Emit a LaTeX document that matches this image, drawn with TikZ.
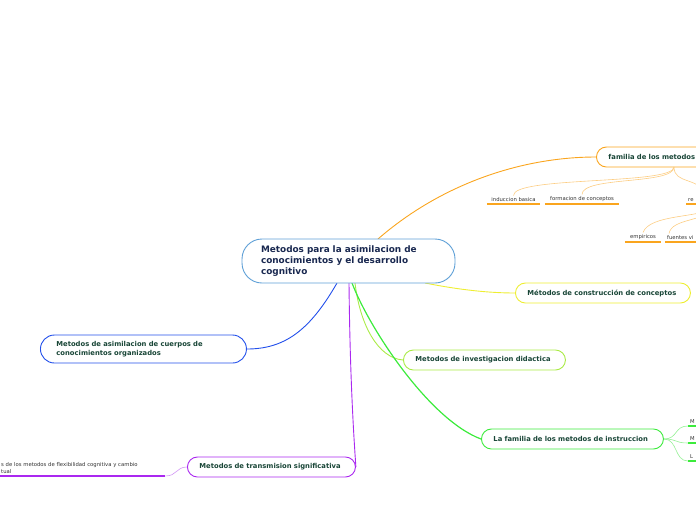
\documentclass[tikz,border=0pt]{standalone}
\usepackage{fontspec}
\setmainfont{DejaVu Sans}
\definecolor{cblue}{RGB}{95,160,215}
\definecolor{corange}{RGB}{250,165,30}
\definecolor{lorange}{RGB}{252,205,130}
\definecolor{cyellow}{RGB}{238,238,50}
\definecolor{clgreen}{RGB}{170,235,70}
\definecolor{cgreen}{RGB}{60,235,60}
\definecolor{lgreen}{RGB}{150,240,150}
\definecolor{cdblue}{RGB}{35,80,235}
\definecolor{cpurple}{RGB}{170,40,240}
\definecolor{lpurple}{RGB}{210,150,245}
\definecolor{ctext}{RGB}{25,40,80}
\definecolor{ntext}{RGB}{25,70,55}
\definecolor{ltext}{RGB}{50,50,50}
\begin{document}
\begin{tikzpicture}[x=1pt,y=-1pt,
  central/.style={draw=cblue, line width=0.9pt, rounded corners=20pt, fill=white,
    minimum width=213pt, minimum height=44pt, text width=175pt, inner xsep=19pt,
    align=left, text=ctext, font=\bfseries\fontsize{8.9}{11}\selectfont},
  branch/.style={line width=0.9pt, rounded corners=10pt, fill=white, anchor=west,
    minimum height=20pt, inner xsep=12pt, inner ysep=0pt, align=left, text=ntext,
    font=\bfseries\fontsize{6.8}{9}\selectfont},
  leaf/.style={inner xsep=0pt, inner ysep=2pt, text=ltext,
    font=\fontsize{5.3}{7}\selectfont},
  conn/.style={line width=0.9pt},
  thin/.style={line width=0.6pt},
  under/.style={line width=1.4pt}
]
\useasboundingbox (0,0) rectangle (696,520);

% connector end points on the central topic
\coordinate (cTop) at (378,239);
\coordinate (cBR) at (425,283);
\coordinate (cB1) at (355,283);
\coordinate (cB2) at (352,283);
\coordinate (cB3) at (337,283);
\coordinate (cB4) at (349,283);

% branch nodes
\node[branch, draw=corange, text width=120pt] (fam) at (596,157) {familia de los metodos};
\node[branch, draw=cyellow, text width=151pt] (cons) at (515,293) {Métodos de construcción de conceptos};
\node[branch, draw=clgreen, text width=138pt] (inv) at (403,360) {Metodos de investigacion didactica};
\node[branch, draw=cgreen, text width=158pt] (ins) at (481,439) {La familia de los metodos de instruccion};
\node[branch, draw=cdblue, rounded corners=14pt, minimum height=28pt, inner xsep=16pt, text width=174pt] (asim) at (40,349) {Metodos de asimilacion de cuerpos de\\conocimientos organizados};
\node[branch, draw=cpurple, text width=144pt] (trans) at (187,467) {Metodos de transmision significativa};

% connectors
\draw[conn, corange] (cTop) .. controls (440,185) and (520,157) .. (fam.west);
\draw[conn, cyellow] (cBR) .. controls (460,290) and (490,293) .. (cons.west);
\draw[conn, clgreen] (cB1) .. controls (360,325) and (378,358) .. (inv.west);
\draw[line width=1.2pt, cgreen] (cB2) .. controls (370,330) and (430,420) .. (ins.west);
\draw[conn, cdblue] (cB3) .. controls (310,330) and (285,349) .. (asim.east);
\draw[conn, cpurple] (cB4) .. controls (350,380) and (354,440) .. (trans.east);

\node[central] (c) at (348.5,261) {Metodos para la asimilacion de\\conocimientos y el desarrollo\\cognitivo};

% familia leaves
\coordinate (famB) at (674,167);
\node[leaf, anchor=south, minimum width=53pt] (ind) at (513.5,204) {induccion basica};
\node[leaf, anchor=south, minimum width=74pt] (form) at (582,204) {formacion de conceptos};
\node[leaf, anchor=south west, minimum width=20pt, text width=16pt, align=left, inner xsep=2pt] (re) at (686,204) {re};
\draw[under, corange] (ind.south west) -- (ind.south east);
\draw[under, corange] (form.south west) -- (form.south east);
\draw[under, corange] (re.south west) -- (re.south east);
\draw[thin, lorange] (famB) .. controls (674,185) and (513,176) .. (ind.north);
\draw[thin, lorange] (famB) .. controls (674,185) and (582,176) .. (form.north);
\draw[thin, lorange] (famB) .. controls (674,185) and (700,176) .. (re.north east);

\coordinate (reB) at (712,208);
\node[leaf, anchor=south, minimum width=36pt] (emp) at (643,242) {empiricos};
\node[leaf, anchor=south west, minimum width=36pt, text width=32pt, align=left, inner xsep=2pt] (fue) at (665,242) {fuentes vi};
\draw[under, corange] (emp.south west) -- (emp.south east);
\draw[under, corange] (fue.south west) -- (fue.south east);
\draw[thin, lorange] (reB) .. controls (700,218) and (650,214) .. (emp.north);
\draw[thin, lorange] (reB) .. controls (705,222) and (672,218) .. ([xshift=4pt]fue.north west);

% instruccion leaves
\node[leaf, anchor=south west, minimum width=12pt, text width=8pt, align=left, inner xsep=2pt] (m1) at (688,426) {M};
\node[leaf, anchor=south west, minimum width=12pt, text width=8pt, align=left, inner xsep=2pt] (m2) at (688,443) {M};
\node[leaf, anchor=south west, minimum width=12pt, text width=8pt, align=left, inner xsep=2pt] (l1) at (688,461) {L};
\draw[under, cgreen] (m1.south west) -- (m1.south east);
\draw[under, cgreen] (m2.south west) -- (m2.south east);
\draw[under, cgreen] (l1.south west) -- (l1.south east);
\draw[thin, lgreen] (ins.east) .. controls (678,439) and (674,426) .. (m1.south west);
\draw[thin, lgreen] (ins.east) .. controls (678,439) and (674,443) .. (m2.south west);
\draw[thin, lgreen] (ins.east) .. controls (678,439) and (674,461) .. (l1.south west);

% transmision leaf
\node[leaf, anchor=south west, minimum width=165pt, text width=163pt, align=left, inner xsep=1pt, inner ysep=2.5pt] (flex) at (0,476) {s de los metodos de flexibilidad cognitiva y cambio\\tual};
\draw[under, cpurple] (flex.south west) -- (flex.south east);
\draw[thin, lpurple] (trans.west) .. controls (176,467) and (177,476) .. (flex.south east);
\end{tikzpicture}
\end{document}
